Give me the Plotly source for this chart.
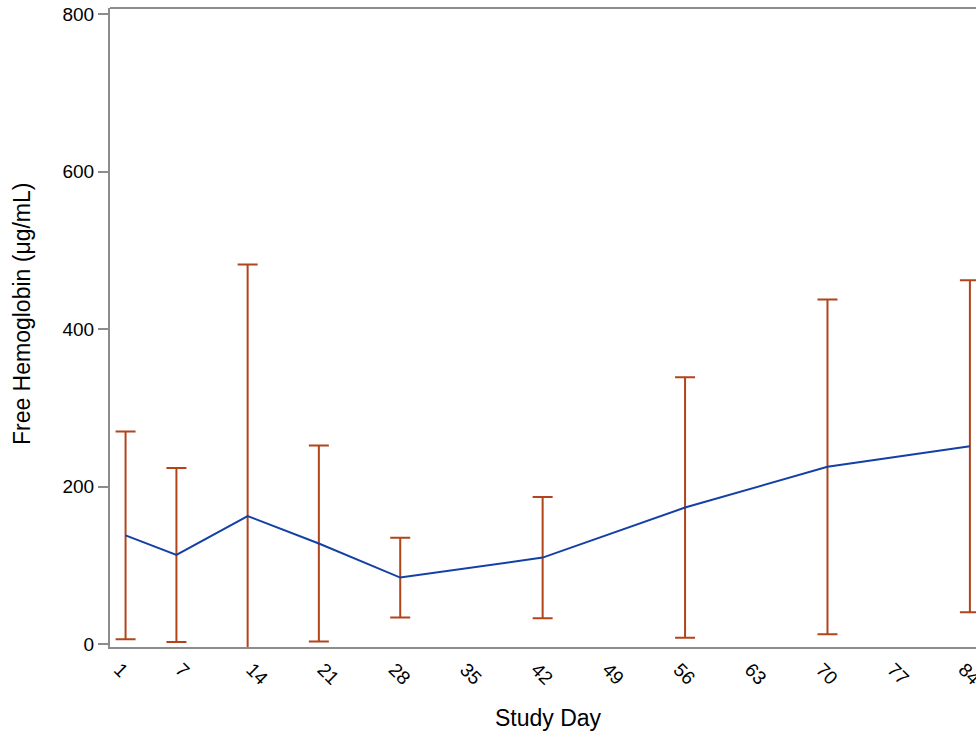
import plotly.graph_objects as go

study_day = [1, 6, 13, 20, 28, 42, 56, 70, 84]
mean_hb = [138, 113, 162.5, 127.6, 84.3, 109.7, 173.3, 225, 251.2]
sd_hb = [132, 110.6, 319.5, 124.6, 50.7, 77, 165.5, 212.6, 211]
tick_days = [1, 7, 14, 21, 28, 35, 42, 49, 56, 63, 70, 77, 84]
y_ticks = [0, 200, 400, 600, 800]

AXIS = "#8c8c8c"
FONT = "Liberation Sans, Arial, sans-serif"

fig = go.Figure()
fig.add_trace(go.Scatter(
    x=study_day, y=mean_hb, mode="lines",
    line=dict(color="#1440a6", width=2),
    error_y=dict(type="data", array=sd_hb, visible=True,
                 color="#b2441c", thickness=2, width=10),
    showlegend=False, hoverinfo="skip",
))

fig.update_layout(
    width=976, height=740,
    margin=dict(l=110, r=0, t=8, b=93, autoexpand=False),
    paper_bgcolor="white", plot_bgcolor="white",
    font=dict(family=FONT, size=19, color="black"),
    xaxis=dict(
        range=[-0.53, 84.6], tickvals=tick_days,
        ticktext=[str(d) for d in tick_days], tickangle=45,
        showgrid=False, zeroline=False, showline=True,
        linecolor=AXIS, linewidth=2, ticks="",
        tickfont=dict(size=19), ticklabeloverflow="allow", automargin=False,
        ticklabelshift=-6, ticklabelstandoff=2,
    ),
    yaxis=dict(
        range=[-3.9, 808], tickvals=y_ticks,
        showgrid=False, zeroline=False, showline=True,
        linecolor=AXIS, linewidth=2, ticks="outside", ticklen=10,
        tickcolor=AXIS, tickwidth=2, automargin=False,
        tickfont=dict(size=19),
    ),
    shapes=[dict(type="line", xref="paper", yref="paper", x0=0, x1=1,
                 y0=1, y1=1, line=dict(color=AXIS, width=2))],
    annotations=[
        dict(text="Study Day", xref="paper", yref="paper", x=0.5, y=0,
             xanchor="center", yanchor="middle", xshift=5, yshift=-71,
             showarrow=False, font=dict(size=23)),
        dict(text="Free Hemoglobin (μg/mL)", xref="paper", yref="paper",
             x=0, y=0.521, xanchor="center", yanchor="middle", xshift=-88,
             textangle=-90, showarrow=False, font=dict(size=23)),
    ],
)

fig.write_html("out.html", config={"displayModeBar": False},
               post_script="document.body.style.margin='0';document.body.style.overflow='hidden';")
